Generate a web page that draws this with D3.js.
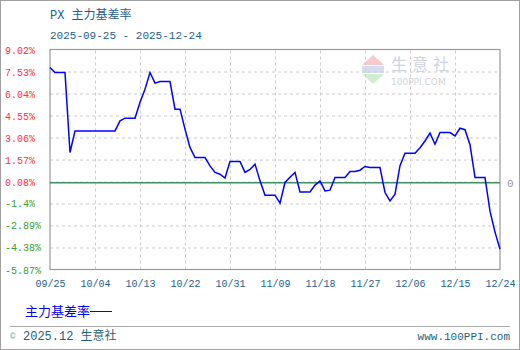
<!DOCTYPE html>
<html><head><meta charset="utf-8">
<script src="https://cdn.jsdelivr.net/npm/d3@7"></script>
<style>
html,body{margin:0;padding:0;background:#fff;}
svg{display:block;}
text{font-family:"Liberation Mono","Noto Sans CJK SC",monospace;}
</style></head>
<body><svg id="c" width="520" height="350"></svg>
<script>
// ---- data ----
const startDate = "2025-09-25";
const endDate = "2025-12-24";
// daily basis rate (%), weekends / holidays carry the previous trading value
const basisRate = [
 7.80, 7.46, 7.46, 7.46, 2.05, 3.51, 3.51, 3.51, 3.51, 3.51,
 3.51, 3.51, 3.51, 3.51, 4.19, 4.37, 4.37, 4.37, 5.45, 6.33,
 7.46, 6.74, 6.85, 6.85, 6.85, 4.98, 4.98, 3.63, 2.39, 1.71,
 1.71, 1.71, 1.14, 0.70, 0.58, 0.32, 1.44, 1.44, 1.44, 0.70,
 0.90, 1.26, 0.13, -0.84, -0.84, -0.84, -1.38, 0.02, 0.38, 0.70,
 -0.62, -0.62, -0.62, -0.16, 0.13, -0.55, -0.50, 0.36, 0.36, 0.36,
 0.76, 0.76, 0.85, 1.10, 1.03, 1.03, 1.03, -0.66, -1.23, -0.77,
 1.16, 2.00, 2.00, 2.00, 2.37, 2.83, 3.36, 2.61, 3.40, 3.40,
 3.40, 3.17, 3.69, 3.59, 2.58, 0.36, 0.36, 0.36, -1.92, -3.34,
 -4.50
];
const xTickLabels = ["09/25","10/04","10/13","10/22","10/31","11/09","11/18","11/27","12/06","12/15","12/24"];
const yTickValues = [9.02, 7.53, 6.04, 4.55, 3.06, 1.57, 0.08, -1.4, -2.89, -4.38, -5.87];
const titleText = "PX 主力基差率";
const seriesName = "主力基差率";

// ---- chart ----
const svg = d3.select("#c");
const L = 50, R = 500, T = 49.5, B = 269.5;
const parse = d3.timeParse("%Y-%m-%d");
const d0 = parse(startDate), d1 = parse(endDate);
const dates = d3.timeDay.range(d0, d3.timeDay.offset(d1, 1));
const data = dates.map((d, i) => ({date: d, v: basisRate[i]}));
const x = d3.scaleTime().domain([d0, d1]).range([L, R]);
const y = d3.scaleLinear().domain([-5.87, 9.02]).range([B, T]);
const xTickDates = xTickLabels.map(s => parse("2025-" + s.replace("/", "-")));

// outer frame
svg.append("rect").attr("x", 0.5).attr("y", 0.5).attr("width", 519).attr("height", 349)
  .attr("fill", "none").attr("stroke", "#a0a0a0");

// title
svg.append("text").attr("x", 50).attr("y", 19).attr("font-size", 12).attr("fill", "#1d5f8c").text(titleText);
svg.append("text").attr("x", 50).attr("y", 39).attr("font-size", 11).attr("fill", "#1d5f8c")
  .text(startDate + " - " + endDate);

// watermark
const wm = svg.append("g").attr("opacity", 0.55);
wm.append("path").attr("d", `M373,55 L384,65 L362,65 Z`).attr("fill", "#f4a0a0");
wm.append("rect").attr("x", 362).attr("y", 66).attr("width", 22).attr("height", 7).attr("fill", "#b8c0e0");
wm.append("path").attr("d", `M362,74 L384,74 L373,84 Z`).attr("fill", "#a8e0a8");
wm.append("text").attr("x", 391).attr("y", 70).attr("font-size", 16).attr("letter-spacing", 5)
  .attr("fill", "#a8b0d0").style("font-family", "'Noto Sans CJK SC'").text("生意社");
wm.append("text").attr("x", 391).attr("y", 85).attr("font-size", 9).attr("fill", "#b0b0c0")
  .style("font-family", "'DejaVu Sans'").text("100PPI.COM");

// grid lines
const gridY = svg.append("g").attr("transform", `translate(${L},0)`)
  .call(d3.axisLeft(y).tickValues(yTickValues.slice(1, -1)).tickSize(-(R - L)).tickFormat(""));
gridY.select(".domain").remove();
gridY.selectAll("line").attr("stroke", "#cccccc").attr("stroke-dasharray", "3,3");
const gridX = svg.append("g").attr("transform", `translate(0,${B})`)
  .call(d3.axisBottom(x).tickValues(xTickDates.slice(1, -1)).tickSize(-(B - T)).tickFormat(""));
gridX.select(".domain").remove();
gridX.selectAll("line").attr("stroke", "#cccccc").attr("stroke-dasharray", "3,3");

// plot frame
svg.append("rect").attr("x", L).attr("y", T).attr("width", R - L).attr("height", B - T)
  .attr("fill", "none").attr("stroke", "#999").attr("stroke-width", 1.2);

// zero line
svg.append("line").attr("x1", L).attr("x2", R).attr("y1", y(0)).attr("y2", y(0))
  .attr("stroke", "#3f8f63").attr("stroke-width", 1.5);
svg.append("text").attr("x", 507).attr("y", y(0) + 4).attr("font-size", 11).attr("fill", "#999").text("0");

// y axis labels
const yAx = svg.append("g").attr("transform", `translate(${L},0)`)
  .call(d3.axisLeft(y).tickValues(yTickValues).tickSize(0).tickFormat(d => d + "%"));
yAx.select(".domain").remove();
yAx.selectAll("text").attr("x", -45).attr("text-anchor", "start").attr("dy", "0.35em")
  .attr("font-size", 10).style("font-family", "'Liberation Mono'")
  .attr("fill", d => d >= 0 ? "#ff3333" : "#33a033");

// x axis labels
const xAx = svg.append("g").attr("transform", `translate(0,${B})`)
  .call(d3.axisBottom(x).tickValues(xTickDates).tickSize(0).tickFormat((d, i) => xTickLabels[i]));
xAx.select(".domain").remove();
xAx.selectAll("text").attr("y", 14).attr("dy", "0.35em").attr("font-size", 10)
  .style("font-family", "'Liberation Mono'").attr("fill", "#1d5f8c");

// series line
const line = d3.line().x(d => x(d.date)).y(d => y(d.v));
svg.append("path").datum(data).attr("d", line).attr("fill", "none")
  .attr("stroke", "#0000ff").attr("stroke-width", 1.5).attr("stroke-linejoin", "miter");

// legend
svg.append("text").attr("x", 25).attr("y", 316).attr("font-size", 13).attr("fill", "#0000ff")
  .style("font-family", "'Noto Sans CJK SC'").text(seriesName);
svg.append("line").attr("x1", 90).attr("x2", 112).attr("y1", 311.5).attr("y2", 311.5)
  .attr("stroke", "#0000ff").attr("stroke-width", 1);

// footer
svg.append("line").attr("x1", 10).attr("x2", 510).attr("y1", 326.5).attr("y2", 326.5).attr("stroke", "#aaa");
svg.append("text").attr("x", 10).attr("y", 339).attr("font-size", 9).attr("fill", "#8aa0b0").text("©");
svg.append("text").attr("x", 23).attr("y", 340).attr("font-size", 12).attr("fill", "#1d5f7c").text("2025.12 生意社");
svg.append("text").attr("x", 510).attr("y", 340).attr("font-size", 11).attr("text-anchor", "end")
  .attr("fill", "#1d5f7c").text("www.100PPI.com");
</script></body></html>
